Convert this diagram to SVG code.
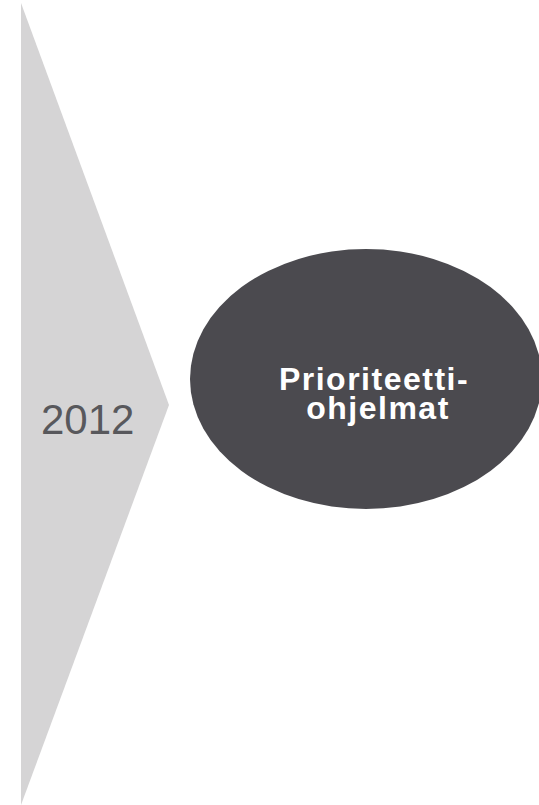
<svg xmlns="http://www.w3.org/2000/svg" width="539" height="805" viewBox="0 0 539 805">
<style>
.year{font-family:"Liberation Sans",Arial,sans-serif;font-size:42px;fill:#58585c}
.lbl{font-family:"Liberation Sans",Arial,sans-serif;font-size:32px;font-weight:bold;fill:#ffffff;text-anchor:middle;letter-spacing:1.5px}
</style>
<rect width="539" height="805" fill="#ffffff"/>
<g id="arrow">
<polygon points="21,3 169,405 21,805" fill="#d5d4d5"/>
<text class="year" x="41" y="434">2012</text>
</g>
<g id="node-prioriteettiohjelmat">
<ellipse cx="366" cy="379" rx="176" ry="130" fill="#4b4a4f"/>
<text class="lbl" x="374" y="390">Prioriteetti-</text>
<text class="lbl" x="378" y="419">ohjelmat</text>
</g>
<g id="connectors"></g>
</svg>
